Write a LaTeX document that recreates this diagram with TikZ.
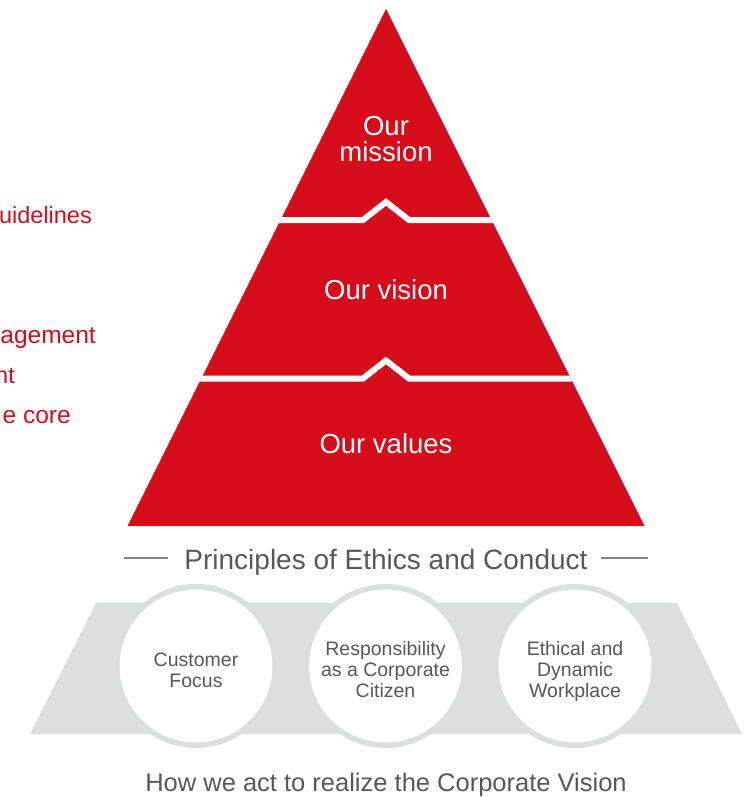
\documentclass[tikz,border=0pt]{standalone}
\usepackage{fontspec}
\setmainfont{Liberation Sans}
\definecolor{pyrred}{RGB}{215,12,26}
\definecolor{bandgray}{RGB}{221,222,222}
\definecolor{txtgray}{RGB}{88,88,88}
\definecolor{rulegray}{RGB}{130,130,130}
\begin{document}
\begin{tikzpicture}[x=1pt,y=-1pt,
  pyrlabel/.style={text=white, font=\fontsize{27.5}{26}\selectfont, align=center, inner sep=0, anchor=base},
  sidetext/.style={text=pyrred, font=\fontsize{23.5}{26}\selectfont, inner sep=0, anchor=base east},
  widesidetext/.style={sidetext, font=\fontsize{24.5}{26}\selectfont},
  valuecircle/.style={circle, fill=white, draw=bandgray, line width=5.5pt, minimum size=158.5pt, inner sep=0},
  circletext/.style={text=txtgray, font=\fontsize{19.5}{21}\selectfont, align=center, inner sep=0, anchor=base},
  captiontext/.style={text=txtgray, inner sep=0, anchor=base},
  sepline/.style={white, line width=6pt, miter limit=10},
  ruleline/.style={rulegray, line width=1.3pt}
]
\useasboundingbox (0,0) rectangle (754,797);

% pyramid
\coordinate (apex) at (386,9);
\coordinate (bl) at (127.5,526);
\coordinate (br) at (644.5,526);
\fill[pyrred] (apex) -- (br) -- (bl) -- cycle;
\begin{scope}
  \clip (apex) -- (br) -- (bl) -- cycle;
  \coordinate (s1a) at (250,220);
  \coordinate (s1b) at (363,220);
  \coordinate (s1c) at (386,202);
  \coordinate (s1d) at (409,220);
  \coordinate (s1e) at (520,220);
  \draw[sepline] (s1a) -- (s1b) -- (s1c) -- (s1d) -- (s1e);
  \coordinate (s2a) at (170,378.5);
  \coordinate (s2b) at (363,378.5);
  \coordinate (s2c) at (386,360.5);
  \coordinate (s2d) at (409,378.5);
  \coordinate (s2e) at (600,378.5);
  \draw[sepline] (s2a) -- (s2b) -- (s2c) -- (s2d) -- (s2e);
\end{scope}
\node[pyrlabel] (mission) at (386,161) {Our\\mission};
\node[pyrlabel] (vision) at (386,299) {Our vision};
\node[pyrlabel] (values) at (386,453) {Our values};

% side texts, cut by the left edge as in the reference
\node[sidetext] (t1) at (92,223) {uidelines};
\node[widesidetext] (t2) at (96,343) {agement};
\node[sidetext] (t3) at (15,383) {nt};
\node[widesidetext] (t4) at (71,423) {e core};

% principles caption
\node[captiontext, font=\fontsize{28}{30}\selectfont] (principles) at (386,569) {Principles of Ethics and Conduct};
\coordinate (r1a) at (124,558);
\coordinate (r1b) at (168,558);
\coordinate (r2a) at (601,558);
\coordinate (r2b) at (648,558);
\draw[ruleline] (r1a) -- (r1b);
\draw[ruleline] (r2a) -- (r2b);

% band
\fill[bandgray] (96,603) -- (677,603) -- (742,734) -- (30,734) -- cycle;
\node[valuecircle] (c1) at (196,666) {};
\node[valuecircle] (c2) at (385.5,666) {};
\node[valuecircle] (c3) at (575,666) {};
\node[circletext] (c1t) at (196,687) {Customer\\Focus};
\node[circletext] (c2t) at (385.5,697) {Responsibility\\as a Corporate\\Citizen};
\node[circletext] (c3t) at (575,697) {Ethical and\\Dynamic\\Workplace};

\node[captiontext, font=\fontsize{25.5}{28}\selectfont] (howwe) at (386,791) {How we act to realize the Corporate Vision};
\end{tikzpicture}
\end{document}
